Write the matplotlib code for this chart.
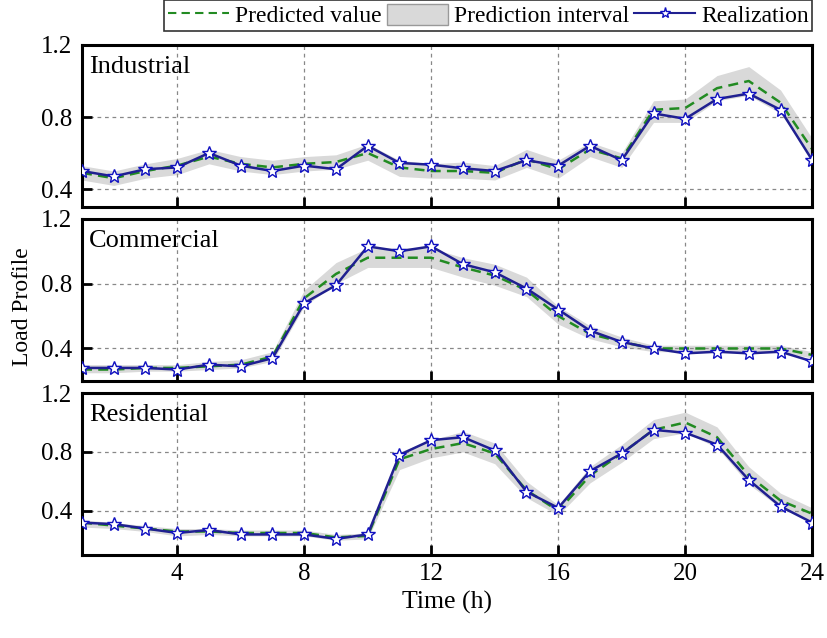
import numpy as np
import matplotlib
matplotlib.use("Agg")
import matplotlib.pyplot as plt
from matplotlib.lines import Line2D
from matplotlib.patches import Patch

plt.rcParams['font.family'] = ['Liberation Serif', 'DejaVu Serif']

hours = list(range(1, 25))

# Industrial
ind_real = [0.50, 0.47, 0.51, 0.52, 0.60, 0.53, 0.50, 0.53, 0.51, 0.64, 0.545, 0.535,
            0.515, 0.50, 0.56, 0.53, 0.64, 0.56, 0.82, 0.79, 0.90, 0.93, 0.84, 0.56]
ind_pred = [0.49, 0.46, 0.50, 0.53, 0.58, 0.54, 0.52, 0.54, 0.55, 0.60, 0.52, 0.50,
            0.50, 0.49, 0.565, 0.51, 0.62, 0.57, 0.84, 0.85, 0.96, 1.00, 0.88, 0.62]
ind_low = [0.45, 0.42, 0.46, 0.48, 0.54, 0.50, 0.48, 0.50, 0.51, 0.56, 0.47, 0.46,
           0.46, 0.45, 0.52, 0.46, 0.58, 0.52, 0.77, 0.77, 0.89, 0.92, 0.82, 0.57]
ind_up = [0.53, 0.50, 0.54, 0.57, 0.62, 0.58, 0.56, 0.58, 0.59, 0.65, 0.56, 0.54,
          0.55, 0.53, 0.62, 0.56, 0.66, 0.60, 0.89, 0.90, 1.03, 1.08, 0.95, 0.68]

# Commercial
com_real = [0.28, 0.28, 0.28, 0.27, 0.30, 0.29, 0.34, 0.68, 0.79, 1.03, 1.00, 1.03,
            0.92, 0.87, 0.77, 0.64, 0.51, 0.44, 0.40, 0.37, 0.38, 0.37, 0.38, 0.32]
com_pred = [0.27, 0.27, 0.28, 0.28, 0.29, 0.30, 0.35, 0.71, 0.86, 0.96, 0.96, 0.96,
            0.90, 0.85, 0.76, 0.60, 0.49, 0.44, 0.40, 0.40, 0.40, 0.40, 0.40, 0.36]
com_low = [0.25, 0.25, 0.26, 0.26, 0.27, 0.28, 0.32, 0.66, 0.80, 0.90, 0.90, 0.90,
           0.84, 0.79, 0.72, 0.55, 0.46, 0.41, 0.38, 0.38, 0.38, 0.38, 0.38, 0.34]
com_up = [0.30, 0.30, 0.30, 0.30, 0.32, 0.33, 0.38, 0.76, 0.93, 1.02, 1.02, 1.02,
          0.96, 0.92, 0.84, 0.66, 0.54, 0.47, 0.42, 0.42, 0.42, 0.42, 0.42, 0.38]

# Residential
res_real = [0.32, 0.31, 0.28, 0.25, 0.27, 0.24, 0.24, 0.24, 0.21, 0.24, 0.78, 0.88,
            0.90, 0.81, 0.53, 0.42, 0.67, 0.79, 0.95, 0.93, 0.85, 0.61, 0.43, 0.32]
res_pred = [0.32, 0.30, 0.28, 0.26, 0.26, 0.25, 0.25, 0.25, 0.22, 0.23, 0.75, 0.82,
            0.86, 0.79, 0.54, 0.40, 0.64, 0.79, 0.95, 1.00, 0.90, 0.64, 0.47, 0.38]
res_low = [0.29, 0.28, 0.26, 0.23, 0.24, 0.23, 0.23, 0.23, 0.20, 0.21, 0.68, 0.76,
           0.80, 0.72, 0.49, 0.37, 0.59, 0.73, 0.89, 0.93, 0.83, 0.58, 0.42, 0.33]
res_up = [0.34, 0.32, 0.30, 0.28, 0.28, 0.27, 0.27, 0.27, 0.24, 0.25, 0.80, 0.88,
          0.94, 0.86, 0.60, 0.44, 0.70, 0.85, 1.02, 1.07, 0.97, 0.70, 0.52, 0.42]

panels = [
    ("Industrial", ind_real, ind_pred, ind_low, ind_up, (0.3, 1.2)),
    ("Commercial", com_real, com_pred, com_low, com_up, (0.2, 1.2)),
    ("Residential", res_real, res_pred, res_low, res_up, (0.1, 1.2)),
]

fig = plt.figure(figsize=(8.28, 6.38), dpi=100)

left, width = 0.099, 0.882
bottoms = [0.6755, 0.403, 0.130]
height = 0.254

pred_style = (0, (4, 2.5))
axes = []
for i, (name, real, pred, low, up, ylim) in enumerate(panels):
    ax = fig.add_axes([left, bottoms[i], width, height])
    axes.append(ax)
    ax.fill_between(hours, low, up, color='#d9d9d9', linewidth=0, zorder=1)
    ax.plot(hours, pred, linestyle=pred_style, color='#228B22', linewidth=1.8, zorder=2)
    ax.plot(hours, real, color='#202090', linewidth=1.8, marker='*', markersize=10,
            markerfacecolor='white', markeredgecolor='#1010c0', markeredgewidth=1.0, zorder=3)
    ax.set_xlim(1, 24)
    ax.set_ylim(*ylim)
    ax.set_yticks([0.4, 0.8, 1.2])
    ax.set_xticks([4, 8, 12, 16, 20, 24])
    ax.grid(True, color='#888888', linestyle=(0, (3, 3)), linewidth=0.9)
    ax.tick_params(direction='in', length=7, width=2, labelsize=18)
    ax.tick_params(axis='y', pad=7)
    ax.tick_params(axis='x', pad=6)
    for s in ax.spines.values():
        s.set_linewidth(2.2)
    ax.text(0.01, 0.93, name, transform=ax.transAxes, fontsize=19, va='top', ha='left')
    if i < 2:
        ax.tick_params(labelbottom=False)

axes[2].set_xlabel("Time (h)", fontsize=18.5, labelpad=4)
fig.text(0.027, 0.52, "Load Profile", rotation=90, fontsize=17, ha='center', va='center')

handles = [
    Line2D([], [], linestyle=pred_style, color='#228B22', linewidth=1.5),
    Patch(facecolor='#d9d9d9', edgecolor='#999999'),
    Line2D([], [], color='#202090', linewidth=1.5, marker='*', markersize=8,
           markerfacecolor='white', markeredgecolor='#1010c0'),
]
labels = ["Predicted value", "Prediction interval", "Realization"]
leg = fig.legend(handles, labels, loc='upper right', bbox_to_anchor=(0.981, 1.0), ncol=3,
                 fontsize=17, frameon=True, fancybox=False, edgecolor='black',
                 handlelength=2.6, handleheight=1.0, handletextpad=0.25, columnspacing=0.2,
                 borderpad=0.15, borderaxespad=0.0)
leg.get_frame().set_linewidth(1.2)

fig.savefig("out.png", dpi=100)
